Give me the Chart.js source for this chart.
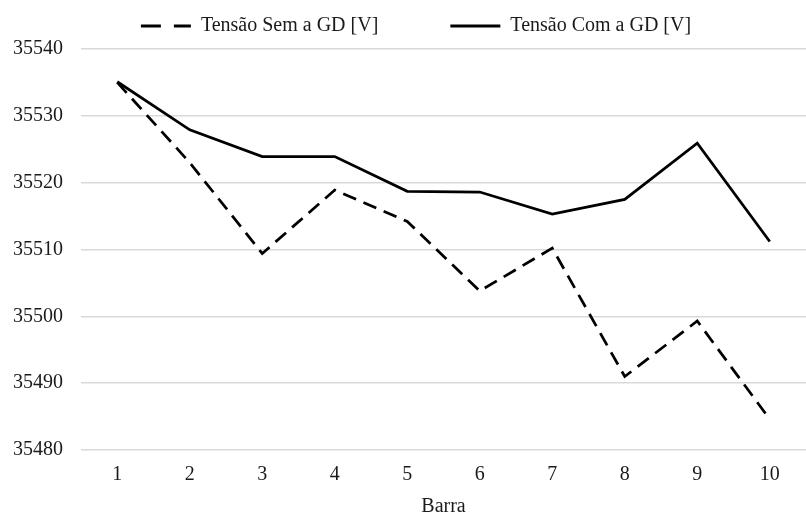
<!DOCTYPE html>
<html>
<head>
<meta charset="utf-8">
<script src="https://cdn.jsdelivr.net/npm/chart.js@4.4.1/dist/chart.umd.min.js"></script>
<style>
  html, body { margin: 0; padding: 0; background: #fff; }
  #wrap { width: 806px; height: 514px; }
</style>
</head>
<body>
<div id="wrap"><canvas id="chart"></canvas></div>
<script>
// barras (eixo x)
const barras = ['1', '2', '3', '4', '5', '6', '7', '8', '9', '10'];
// tensão sem a GD [V]
const semGD = [35535, 35523, 35509.4, 35518.9, 35514.2, 35503.8, 35510.2, 35491.0, 35499.3, 35484.6];
// tensão com a GD [V]
const comGD = [35535.1, 35527.9, 35523.9, 35523.9, 35518.7, 35518.6, 35515.3, 35517.5, 35525.9, 35511.2];
const yTicks = [35480, 35490, 35500, 35510, 35520, 35530, 35540];

const serif = "'Liberation Serif', 'Times New Roman', serif";
const textColor = '#1a1a1a';

// legenda: espaço horizontal grande entre itens, mas altura compacta
const LEGEND_GAP = 72;
const LEGEND_HEIGHT = 49;
const LEGEND_TEXT_TOP = 16;

const legendSpacing = {
  id: 'legendSpacing',
  afterInit(chart) {
    const legend = chart.legend;
    const fit = legend.fit;
    legend.fit = function () {
      fit.call(this);
      this.height = LEGEND_HEIGHT;
    };
  },
  afterLayout(chart) {
    const legend = chart.legend;
    legend.top = LEGEND_TEXT_TOP - LEGEND_GAP;
    legend.left += 13;
    legend.right += 13;
  }
};

const ctx = document.getElementById('chart').getContext('2d');
new Chart(ctx, {
  type: 'line',
  data: {
    labels: barras,
    datasets: [
      {
        label: 'Tensão Sem a GD [V]',
        data: semGD,
        borderColor: '#000',
        borderWidth: 2.75,
        borderDash: [14, 8],
        pointRadius: 0,
        tension: 0,
        fill: false
      },
      {
        label: 'Tensão Com a GD [V]',
        data: comGD,
        borderColor: '#000',
        borderWidth: 2.75,
        pointRadius: 0,
        tension: 0,
        fill: false
      }
    ]
  },
  options: {
    responsive: true,
    maintainAspectRatio: false,
    animation: false,
    layout: { padding: { top: 0, right: 0, bottom: -5, left: 0 } },
    plugins: {
      tooltip: { enabled: false },
      legend: {
        position: 'top',
        labels: {
          usePointStyle: true,
          pointStyle: 'line',
          pointStyleWidth: 50,
          boxHeight: 20,
          padding: LEGEND_GAP,
          color: textColor,
          font: { family: serif, size: 20 },
          generateLabels: (chart) => {
            const items = Chart.defaults.plugins.legend.labels.generateLabels(chart);
            return items.map(item => {
              const ds = chart.data.datasets[item.datasetIndex];
              item.lineDash = ds.borderDash ? [20, 13] : [];
              item.lineWidth = 3;
              return item;
            });
          }
        }
      }
    },
    scales: {
      x: {
        offset: true,
        grid: { display: false, drawTicks: false },
        border: { display: false },
        ticks: { color: textColor, padding: 13, font: { family: serif, size: 20 } },
        title: {
          display: true,
          text: 'Barra',
          color: textColor,
          padding: { top: -5, bottom: 0 },
          font: { family: serif, size: 20 }
        }
      },
      y: {
        min: 35480,
        max: 35540,
        afterFit: (scale) => { scale.width = 81; },
        afterBuildTicks: (scale) => { scale.ticks = yTicks.map(v => ({ value: v })); },
        grid: { color: '#d9d9d9', lineWidth: 1.5, drawTicks: false },
        border: { display: false },
        ticks: {
          color: textColor,
          padding: 18,
          font: { family: serif, size: 20 },
          callback: (v) => String(v)
        }
      }
    }
  },
  plugins: [legendSpacing]
});
</script>
</body>
</html>
